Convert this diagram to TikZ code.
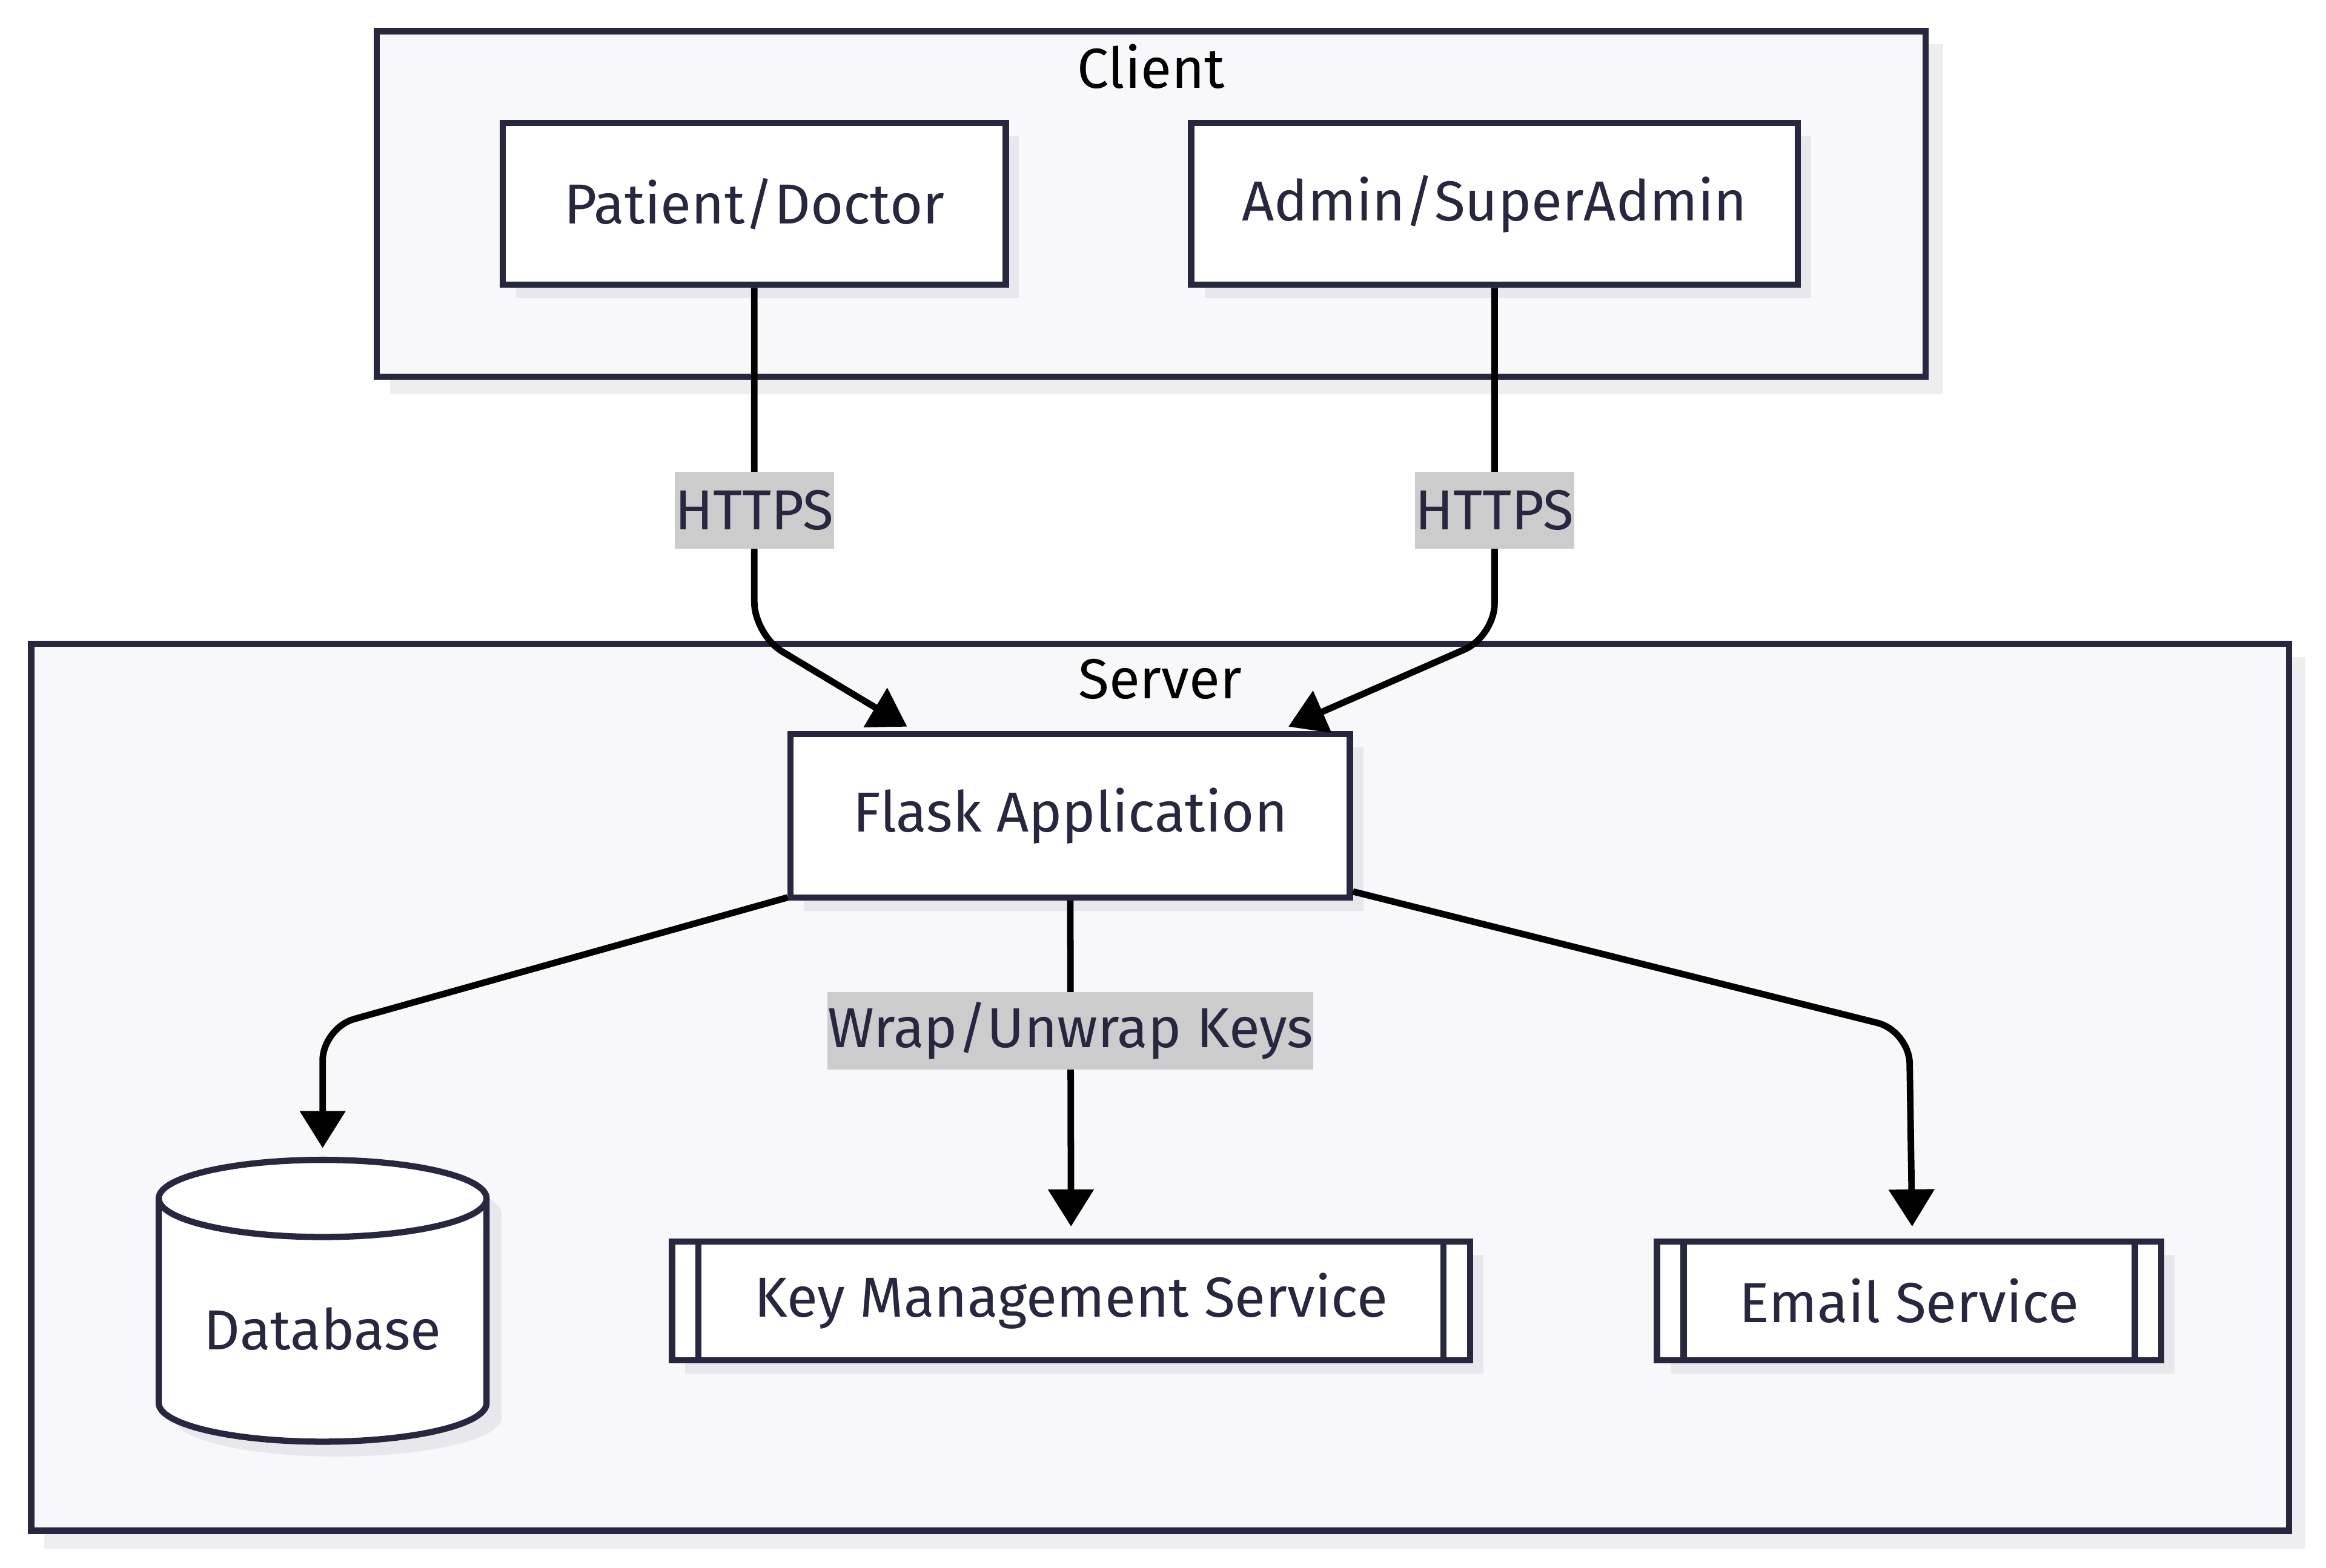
\documentclass[tikz,border=0pt]{standalone}
\usepackage{fontspec}
\setmainfont{Fira Sans}
\usetikzlibrary{arrows.meta,calc,shadows}
\definecolor{navy}{HTML}{27273F}
\definecolor{clfill}{HTML}{F8F8FA}
\definecolor{clshadow}{HTML}{EEEEF0}
\definecolor{shadowc}{HTML}{E8E8EC}
\definecolor{labelbg}{HTML}{CCCCCC}
\newcommand{\dfont}{\fontsize{38}{46}\selectfont}
\begin{document}
\begin{tikzpicture}[x=1pt,y=-1pt,
  cluster/.style={draw=navy, fill=clfill, line width=4.2pt},
  title/.style={font=\dfont, text=black, inner sep=0pt},
  nshadow/.style={drop shadow={shadow xshift=9pt, shadow yshift=-9pt, fill=shadowc, opacity=1}},
  box/.style={draw=navy, line width=4.2pt, fill=white, text=navy, inner sep=0pt, font=\dfont, nshadow},
  elabel/.style={fill=labelbg, text=navy, font=\dfont, inner xsep=0pt, inner ysep=0pt, minimum height=52pt},
  arr/.style={draw=black, line width=4.4pt, rounded corners=22pt, -{Triangle[width=30pt,length=25pt]}}
]
\useasboundingbox (0,0) rectangle (1568,1057);
\fill[white] (0,0) rectangle (1568,1057);

% clusters
\fill[clshadow] (263,30) rectangle (1310,266);
\draw[cluster] (254,21) rectangle (1298,254);
\node[title] (clientlbl) at (776,45) {Client};

\fill[clshadow] (30,443) rectangle (1554,1044);
\draw[cluster] (21,434) rectangle (1543,1032);
\node[title] (serverlbl) at (782,458) {Server};

% client nodes
\node[box, minimum width=339pt, minimum height=109pt] (pd) at (508.5,137.5) {Patient/Doctor};
\node[box, minimum width=409pt, minimum height=109pt] (ad) at (1007.5,137.5) {Admin/SuperAdmin};

% server nodes
\node[box, minimum width=377pt, minimum height=110pt] (flask) at (721.5,550) {Flask Application};

\node[box, minimum width=538pt, minimum height=80pt] (kms) at (722,877) {Key Management Service};
\draw[navy, line width=4.2pt] ([xshift=20pt]kms.north west) -- ([xshift=20pt]kms.south west);
\draw[navy, line width=4.2pt] ([xshift=-20pt]kms.north east) -- ([xshift=-20pt]kms.south east);

\node[box, minimum width=340pt, minimum height=80pt] (email) at (1287,877) {Email Service};
\draw[navy, line width=4.2pt] ([xshift=20pt]email.north west) -- ([xshift=20pt]email.south west);
\draw[navy, line width=4.2pt] ([xshift=-20pt]email.north east) -- ([xshift=-20pt]email.south east);

% database cylinder
\fill[shadowc] (117,818) -- (117,956) arc[start angle=180,end angle=0,x radius=110.5,y radius=26] -- (338,818) arc[start angle=0,end angle=-180,x radius=110.5,y radius=26] -- cycle;
\filldraw[fill=white, draw=navy, line width=4.2pt] (107,808) -- (107,946) arc[start angle=180,end angle=0,x radius=110.5,y radius=26] -- (328,808) arc[start angle=0,end angle=-180,x radius=110.5,y radius=26] -- cycle;
\draw[navy, line width=4.2pt] (107,808) arc[start angle=180,end angle=0,x radius=110.5,y radius=26];
\node[text=navy, font=\dfont, inner sep=0pt] (db) at (217.5,896) {Database};
\coordinate (dbtop) at (217.5,774);

% connectors
\coordinate (b1) at (508.5,428);
\coordinate (b2) at (1007.5,429);
\coordinate (b3) at (217.5,693);
\coordinate (b4) at (1287,695);
\draw[arr] (pd.south) -- (b1) -- ([xshift=-110pt,yshift=3pt]flask.north);
\draw[arr] (ad.south) -- (b2) -- ([xshift=147pt,yshift=3pt]flask.north);
\draw[arr] ([yshift=2pt]flask.south west) -- (b3) -- (dbtop);
\draw[arr] (flask.south) -- ([yshift=8pt]kms.north);
\draw[arr] ([yshift=6pt]flask.south east) -- (b4) -- ([xshift=2pt,yshift=8pt]email.north);

% edge labels
\node[elabel] (l1) at (508.5,344) {HTTPS};
\node[elabel] (l2) at (1007.5,344) {HTTPS};
\node[elabel] (l3) at (721.5,695) {Wrap/Unwrap Keys};
\end{tikzpicture}
\end{document}
